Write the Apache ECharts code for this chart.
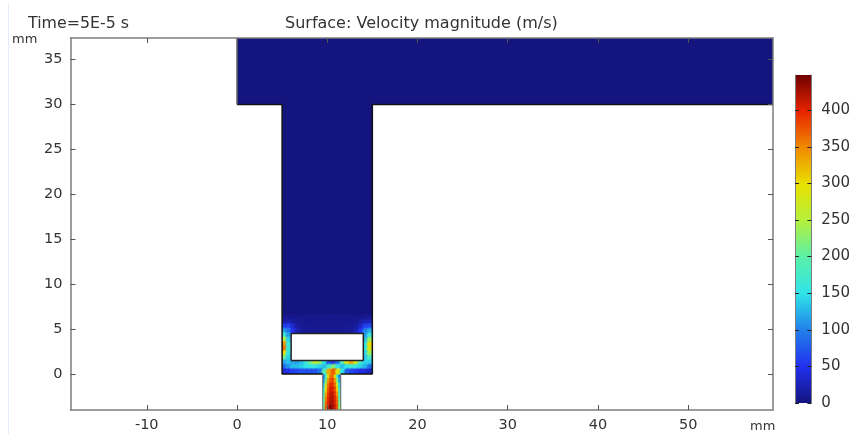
<!DOCTYPE html>
<html><head><meta charset="utf-8">
<style>html,body{margin:0;padding:0;background:#fff}#c{width:853px;height:434px}</style>
<script src="https://cdn.jsdelivr.net/npm/echarts@6/dist/echarts.min.js"></script>
</head><body><div id="c"></div>
<script>
const xTicks = [-10,0,10,20,30,40,50];
const yTicks = [0,5,10,15,20,25,30,35];
const barTicks = [0,50,100,150,200,250,300,350,400];
const xRange = [-18.45,59.4];
const yRange = [-4.02,37.42];
const barMax = 448;
const palette = ['#14147e','#2230f0','#2080ea','#2fe4ea','#5af0a8','#b4f03c','#e8e000','#f08a00','#e82400','#700000'];
const domainOutline = [[0,37.42],[59.4,37.42],[59.4,30],[15,30],[15,0],[11.5,0],[11.5,-4.02],[9.5,-4.02],[9.5,0],[5,0],[5,30],[0,30]];
const obstacle = [[6,1.5],[14,1.5],[14,4.5],[6,4.5]];
const outsideLeft = [[3,-0.001],[5,-0.001],[5,8],[3,8]];
const outsideRight = [[15,-0.001],[17,-0.001],[17,8],[15,8]];
const belowLeft = [[3,-5],[9.5,-5],[9.5,0],[3,0]];
const belowRight = [[11.5,-5],[17,-5],[17,0],[11.5,0]];
const wallA = [[0,30],[5,30],[5,0],[9.5,0]];
const wallB = [[59.4,30],[15,30],[15,0],[11.5,0]];
const wallC = [[0,37.42],[0,30]];
const inletWallA = [[9.5,0],[9.5,-4.02]];
const inletWallB = [[11.5,0],[11.5,-4.02]];
// channel field: x from 5 by 0.5, rows from y=6.5 down by 0.5 (null = obstacle)
const channelRows = [
 [8,7,6,6,6,6,6,6,6,6,6,6,6,6,6,6,6,6,7,8],
 [20,22,14,8,7,6,6,6,6,6,6,6,6,6,6,7,8,14,25,25],
 [55,60,35,15,9,8,7,7,6,6,6,6,7,7,8,9,12,30,60,65],
 [110,95,50,22,12,10,9,8,8,8,8,8,8,9,10,12,22,50,100,120],
 [165,115,null,null,null,null,null,null,null,null,null,null,null,null,null,null,null,null,115,160],
 [255,140,null,null,null,null,null,null,null,null,null,null,null,null,null,null,null,null,130,230],
 [345,160,null,null,null,null,null,null,null,null,null,null,null,null,null,null,null,null,150,300],
 [360,165,null,null,null,null,null,null,null,null,null,null,null,null,null,null,null,null,155,285],
 [300,155,null,null,null,null,null,null,null,null,null,null,null,null,null,null,null,null,145,235],
 [210,140,null,null,null,null,null,null,null,null,null,null,null,null,null,null,null,null,135,180],
 [120,130,120,115,130,170,215,265,235,150,70,55,85,190,290,335,280,175,140,140],
 [85,110,130,130,140,150,160,155,140,130,170,220,150,130,150,170,155,140,125,90],
 [40,50,60,65,70,70,70,70,90,190,330,370,290,150,80,65,55,45,40,30]
];
// inlet field: x from 9.5 by 0.25, rows from y=0 down by 0.5
const inletRows = [
 [90,170,290,360,370,300,180,100],
 [110,210,340,375,385,340,220,120],
 [130,260,360,395,395,365,270,140],
 [150,300,375,405,405,380,310,160],
 [170,330,385,415,415,390,340,180],
 [190,350,395,420,420,400,360,200],
 [200,365,400,425,425,405,370,210],
 [210,370,405,445,430,410,375,220]
];
const cells = [];
channelRows.forEach((r,i)=>r.forEach((v,j)=>{ if(v!==null) cells.push([5+j*0.5,6.5-i*0.5,v,0.5,0.5]); }));
inletRows.forEach((r,i)=>r.forEach((v,j)=>{ cells.push([9.5+j*0.25,0-i*0.5,v,0.25,0.5]); }));

const axGrey='#7d7d7d', txt='#333', font='DejaVu Sans';
const polySeries=(pts,fill,z)=>({type:'custom',coordinateSystem:'cartesian2d',xAxisIndex:0,yAxisIndex:0,z,silent:true,clip:true,
  data:[[0,0]],renderItem:(p,api)=>({type:'polygon',shape:{points:pts.map(q=>api.coord(q))},style:{fill,stroke:null}})});
const wall=(pts,color,w)=>({type:'line',xAxisIndex:0,yAxisIndex:0,data:pts,symbol:'none',silent:true,z:6,clip:true,lineStyle:{color,width:w}});
const mainAxis=(extra)=>Object.assign({type:'value',z:10,splitLine:{show:false},
  axisLine:{show:true,onZero:false,lineStyle:{color:axGrey,width:1.5}}},extra);
const tick=(vals)=>({show:true,inside:true,length:5,customValues:vals,lineStyle:{color:'#555',width:1}});
const fieldSeries=(z,soft)=>({type:'custom',coordinateSystem:'cartesian2d',xAxisIndex:0,yAxisIndex:0,z,silent:true,clip:true,
   encode:{x:0,y:1},data:cells,
   renderItem:(p,api)=>{
    const a=api.coord([api.value(0),api.value(1)]);
    const b=api.coord([api.value(0)+api.value(3),api.value(1)-api.value(4)]);
    const w=b[0]-a[0],h=b[1]-a[1],c=api.visual('color');
    if(!soft) return {type:'rect',shape:{x:a[0]-0.3,y:a[1]-0.3,width:w+0.6,height:h+0.6},style:{fill:c}};
    return {type:'rect',shape:{x:a[0]-w/2,y:a[1]-h/2,width:w*2,height:h*2},
     style:{fill:{type:'radial',x:0.5,y:0.5,r:0.5,colorStops:[
       {offset:0,color:c},{offset:0.5,color:c},{offset:1,color:echarts.color.modifyAlpha(c,0)}]}}};
   }});

const option={
 animation:false,backgroundColor:'#fff',
 title:[
  {text:'Time=5E-5 s',left:23,top:11,textStyle:{fontFamily:font,fontSize:15.8,fontWeight:'normal',color:txt}},
  {text:'Surface: Velocity magnitude (m/s)',left:280,top:11,textStyle:{fontFamily:font,fontSize:16,fontWeight:'normal',color:txt}}
 ],
 grid:[
  {left:70.5,top:38,width:702.5,height:372},
  {left:795,top:75,width:17,height:328}
 ],
 xAxis:[
  mainAxis({gridIndex:0,min:xRange[0],max:xRange[1],position:'bottom',axisTick:tick(xTicks),
    axisLabel:{customValues:xTicks,margin:8,fontFamily:font,fontSize:14.5,color:txt}}),
  mainAxis({gridIndex:0,min:xRange[0],max:xRange[1],position:'top',axisTick:tick(xTicks),axisLabel:{show:false}}),
  {gridIndex:1,type:'category',data:['scale'],axisLine:{show:false},axisTick:{show:false},axisLabel:{show:false}}
 ],
 yAxis:[
  mainAxis({gridIndex:0,min:yRange[0],max:yRange[1],position:'left',axisTick:tick(yTicks),
    axisLabel:{customValues:yTicks,margin:8,padding:[3,0,0,0],fontFamily:font,fontSize:14.5,color:txt}}),
  mainAxis({gridIndex:0,min:yRange[0],max:yRange[1],position:'right',axisTick:tick(yTicks),axisLabel:{show:false}}),
  {gridIndex:1,type:'value',min:0,max:barMax,position:'right',z:10,splitLine:{show:false},
    axisLine:{show:true,lineStyle:{color:axGrey,width:1}},axisTick:{show:true,inside:true,length:4,customValues:barTicks,lineStyle:{color:'#222'}},
    axisLabel:{customValues:barTicks,margin:10,padding:[3,0,0,0],fontFamily:font,fontSize:15,color:txt}},
  {gridIndex:1,type:'value',min:0,max:barMax,position:'left',z:10,splitLine:{show:false},
    axisLine:{show:true,lineStyle:{color:axGrey,width:1}},axisTick:{show:true,inside:true,length:4,customValues:barTicks,lineStyle:{color:'#222'}},
    axisLabel:{show:false}}
 ],
 visualMap:{show:false,type:'continuous',min:0,max:barMax,dimension:2,seriesIndex:[1,2],inRange:{color:palette}},
 series:[
  polySeries(domainOutline,palette[0],2),
  fieldSeries(3,false),
  fieldSeries(3,true),
  polySeries(outsideLeft,'#ffffff',4),
  polySeries(outsideRight,'#ffffff',4),
  polySeries(belowLeft,'#ffffff',4),
  polySeries(belowRight,'#ffffff',4),
  polySeries(obstacle,'#ffffff',4),
  wall(wallA,'#111',1.5),
  wall(wallB,'#111',1.5),
  wall(wallC,'#666',1.5),
  wall(inletWallA,'#666',1),
  wall(inletWallB,'#666',1),
  wall(obstacle.concat([obstacle[0]]),'#222',1.5),
  {type:'bar',xAxisIndex:2,yAxisIndex:2,data:[barMax],barWidth:'100%',silent:true,
   itemStyle:{color:{type:'linear',x:0,y:1,x2:0,y2:0,colorStops:palette.map((c,i)=>({offset:i/(palette.length-1),color:c}))}}}
 ],
 graphic:[
  {type:'line',shape:{x1:8.5,y1:4,x2:8.5,y2:434},style:{stroke:'#e4eefb',lineWidth:1}},
  {type:'text',left:12,top:33,style:{text:'mm',fontFamily:font,fontSize:13,fill:txt}},
  {type:'text',left:750,top:420,style:{text:'mm',fontFamily:font,fontSize:13,fill:txt}}
 ]
};
echarts.init(document.getElementById('c'),null,{renderer:'canvas'}).setOption(option);
</script></body></html>
